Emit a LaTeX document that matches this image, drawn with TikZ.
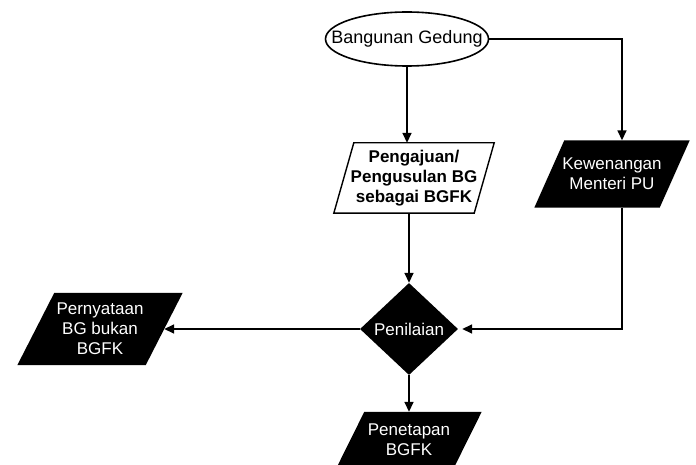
\documentclass[tikz,border=0pt]{standalone}
\usepackage{fontspec}
\setmainfont{Liberation Sans}
\usetikzlibrary{shapes.geometric,arrows.meta,backgrounds}

\tikzset{
  base/.style={font=\fontsize{17}{20}\selectfont, align=center, inner sep=0pt},
  startbox/.style={base, font=\fontsize{18}{20}\selectfont, ellipse, draw,
    line width=1.6pt, fill=white, inner xsep=-18pt, inner ysep=0pt},
  iobox/.style={base, rectangle},
  lightio/.style={iobox, font=\fontsize{17}{20}\selectfont\bfseries, text=black},
  darkio/.style={iobox, text=white},
  decision/.style={base, diamond, fill=black, text=white},
  link/.style={line width=1.6pt, -{Triangle[length=10pt,width=9pt]}}
}

\begin{document}
\begin{tikzpicture}[x=1pt, y=-1pt]
  \useasboundingbox (0,0) rectangle (696,465);

  % nodes
  \node[startbox, minimum width=163pt, minimum height=54pt] (bg) at (407,39) {Bangunan Gedung};
  \node[lightio, minimum width=140pt, minimum height=70pt] (pj) at (414,178)
    {Pengajuan/\\Pengusulan BG\\sebagai BGFK};
  \node[darkio, minimum width=125pt, minimum height=67pt] (kw) at (612,174)
    {Kewenangan\\Menteri PU};
  \node[decision, minimum width=98pt, minimum height=92pt] (dm) at (409,329) {Penilaian};
  \node[darkio, minimum width=128pt, minimum height=72pt] (pn) at (100,329)
    {Pernyataan\\BG bukan\\BGFK};
  \node[darkio, minimum width=117pt, minimum height=56pt] (pt) at (409,440)
    {Penetapan\\BGFK};

  % slanted input/output shapes behind the texts
  \begin{scope}[on background layer]
    \draw[line width=1.4pt, fill=white]
      ([xshift=10pt]pj.north west) -- ([xshift=10pt]pj.north east)
      -- ([xshift=-10pt]pj.south east) -- ([xshift=-10pt]pj.south west) -- cycle;
    \fill[black]
      ([xshift=15pt]kw.north west) -- ([xshift=15pt]kw.north east)
      -- ([xshift=-15pt]kw.south east) -- ([xshift=-15pt]kw.south west) -- cycle;
    \fill[black]
      ([xshift=18.5pt]pn.north west) -- ([xshift=18.5pt]pn.north east)
      -- ([xshift=-18.5pt]pn.south east) -- ([xshift=-18.5pt]pn.south west) -- cycle;
    \fill[black]
      ([xshift=14pt]pt.north west) -- ([xshift=14pt]pt.north east)
      -- ([xshift=-14pt]pt.south east) -- ([xshift=-14pt]pt.south west) -- cycle;
  \end{scope}

  % connectors
  \draw[link] (bg.south) -- (bg.south |- pj.north);
  \draw[link] (bg.east) -| ([xshift=10pt]kw.north);
  \draw[link] (pj.south -| dm.north) -- (dm.north);
  \draw[link] ([xshift=10pt]kw.south) |- ([xshift=4pt]dm.east);
  \draw[link] (dm.west) -- (pn.east);
  \draw[link] (dm.south) -- (pt.north);
\end{tikzpicture}
\end{document}
